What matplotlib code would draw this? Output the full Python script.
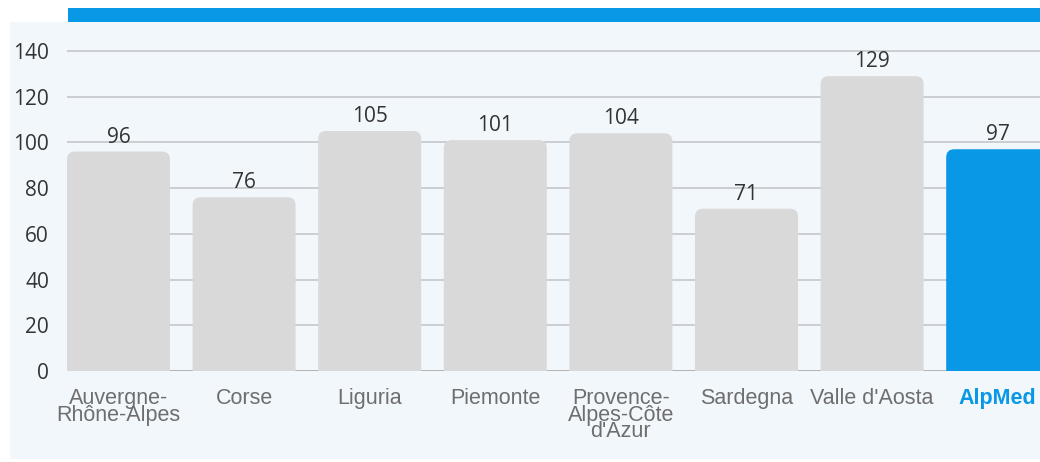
import matplotlib
matplotlib.use("Agg")
import matplotlib.pyplot as plt
from matplotlib.patches import FancyBboxPatch, Rectangle

categories = ["Auvergne-\nRhône-Alpes", "Corse", "Liguria", "Piemonte",
              "Provence-\nAlpes-Côte\nd'Azur", "Sardegna", "Valle d'Aosta", "AlpMed"]
values = [96, 76, 105, 101, 104, 71, 129, 97]
yticks = [0, 20, 40, 60, 80, 100, 120, 140]

W, H, DPI = 1040, 462, 100
fig = plt.figure(figsize=(W / DPI, H / DPI), dpi=DPI)
fig.patch.set_facecolor("white")

BG = "#f2f7fc"
BLUE = "#0898e6"
GREY = "#d9d9d9"

# light background panel and top band
fig.patches.append(Rectangle((10 / W, 3 / H), 1 - 10 / W, (440 - 3) / H,
                             transform=fig.transFigure, facecolor=BG, edgecolor="none", zorder=-10))
fig.patches.append(Rectangle((68 / W, (H - 22) / H), 1 - 68 / W, 14 / H,
                             transform=fig.transFigure, facecolor=BLUE, edgecolor="none", zorder=-9))

pitch = 125.6          # px per category
ypx = 2.286            # px per y unit
left_px, base_px = 67, 371
ymax = 150
xlo = -0.41
xhi = xlo + (W - left_px) / pitch
ax = fig.add_axes([left_px / W, (H - base_px) / H, (W - left_px) / W, ymax * ypx / H])
ax.set_facecolor("none")
ax.set_xlim(xlo, xhi)
ax.set_ylim(0, ymax)
for s in ax.spines.values():
    s.set_visible(False)

ax.set_yticks(yticks)
ax.grid(axis="y", color="#c4c8cc", linewidth=1.2, zorder=0)
ax.axhline(0, color="#555555", linewidth=1.4, zorder=0.5)
ax.tick_params(axis="y", length=0, pad=13, labelsize=15, labelcolor="#333333")
for t in ax.get_yticklabels():
    t.set_fontfamily("Open Sans")

bw = 0.82
r_px = 8
rx = r_px / pitch
aspect = (1 / ypx) / (1 / pitch)
for i, v in enumerate(values):
    color = BLUE if i == len(values) - 1 else GREY
    p = FancyBboxPatch((i - bw / 2, -20), bw, v + 20,
                       boxstyle=f"round,pad=0,rounding_size={rx}",
                       mutation_aspect=aspect, facecolor=color, edgecolor="none", zorder=2)
    ax.add_patch(p)
    ax.annotate(str(v), (i, v), xytext=(0, 2.8), textcoords="offset points",
                ha="center", va="bottom", fontsize=15, color="#333333",
                fontfamily="Open Sans", zorder=3)

ax.set_xticks(range(len(categories)))
ax.set_xticklabels(categories, fontfamily="Liberation Sans", fontsize=15.5,
                   color="#6e6e6e", linespacing=0.70)
ax.tick_params(axis="x", length=0, pad=12.5)
last = ax.get_xticklabels()[-1]
last.set_color(BLUE)
last.set_fontweight("bold")

fig.savefig("out.png", dpi=DPI, facecolor=fig.get_facecolor())
